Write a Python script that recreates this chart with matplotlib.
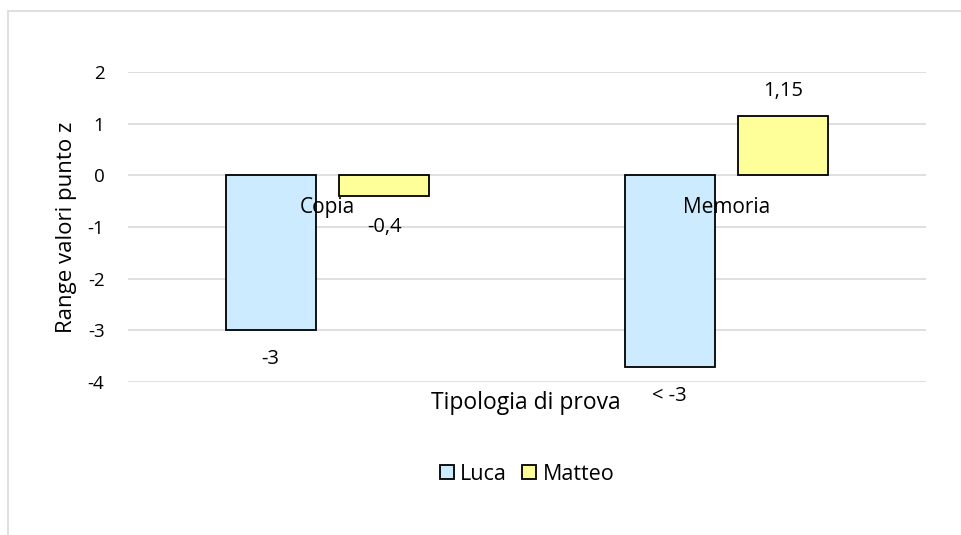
import matplotlib.pyplot as plt
from matplotlib.patches import Rectangle
import numpy as np

plt.rcParams['font.family'] = ['Open Sans', 'DejaVu Sans']

categories = ['Copia', 'Memoria']
luca = [-3.0, -3.7]
matteo = [-0.4, 1.15]
luca_labels = ['-3', '< -3']
matteo_labels = ['-0,4', '1,15']
yticks = [-4, -3, -2, -1, 0, 1, 2]

fig = plt.figure(figsize=(9.61, 5.35), dpi=100)
# chart area border, cut off at right and bottom like the screenshot
fig.patches.append(Rectangle((8 / 961, -0.1), 1.2, 1 - 11 / 535 + 0.1,
                             transform=fig.transFigure, fill=False,
                             edgecolor='#d9d9d9', linewidth=1.2))

ax = fig.add_axes([128 / 961, 1 - 382 / 535, 798 / 961, 310 / 535])
x = np.arange(len(categories))
w = 0.2256
off = 0.1425
ax.bar(x - off, luca, w, color='#cdebfe', edgecolor='black', linewidth=1.3, label='Luca', zorder=3)
ax.bar(x + off, matteo, w, color='#ffff99', edgecolor='black', linewidth=1.3, label='Matteo', zorder=3)

ax.set_xlim(-0.5, 1.5)
ax.set_ylim(-4, 2)
ax.set_yticks(yticks)
ax.set_yticklabels([str(t) for t in yticks])
ax.yaxis.grid(True, color='#d9d9d9', linewidth=1.2, zorder=0)
ax.set_axisbelow(True)
for s in ax.spines.values():
    s.set_visible(False)
ax.tick_params(axis='y', length=0, labelsize=13.5, pad=17, colors='#000000')
ax.set_xticks([])

# category names sit on the zero line
for i, c in enumerate(categories):
    ax.annotate(c, (x[i], 0), xytext=(0, -23), textcoords='offset points',
                ha='center', va='center', fontsize=15, zorder=5)

# data labels
for i in range(len(categories)):
    ax.annotate(luca_labels[i], (x[i] - off, luca[i]), xytext=(0, -21), textcoords='offset points',
                ha='center', va='center', fontsize=14.5, zorder=5)
    dy = 18 if matteo[i] > 0 else -22
    ax.annotate(matteo_labels[i], (x[i] + off, matteo[i]), xytext=(0, dy), textcoords='offset points',
                ha='center', va='center', fontsize=14.5, zorder=5)

ax.set_ylabel('Range valori punto z', fontsize=16, labelpad=8)
fig.text(526 / 961, 1 - 403 / 535, 'Tipologia di prova', ha='center', va='center', fontsize=16.5)

leg = ax.legend(loc='center', bbox_to_anchor=(527 / 961, 1 - 474 / 535), bbox_transform=fig.transFigure,
                ncol=2, frameon=False, fontsize=15.5, handlelength=0.65, handleheight=0.65,
                handletextpad=0.3, columnspacing=0.7)

fig.savefig('out.png', dpi=100)
